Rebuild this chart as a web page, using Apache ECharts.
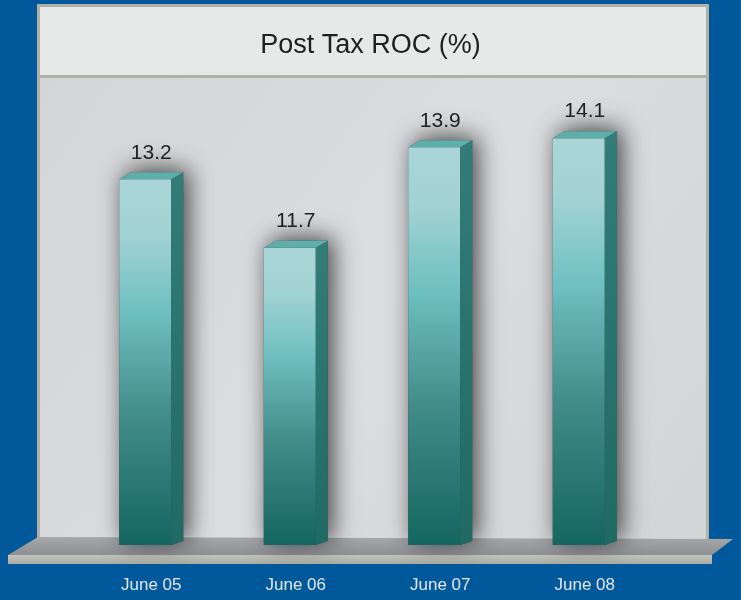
<!DOCTYPE html>
<html>
<head>
<meta charset="utf-8">
<script src="https://cdn.jsdelivr.net/npm/echarts@6/dist/echarts.min.js"></script>
<style>
  html, body { margin: 0; padding: 0; background: #01589b; }
  #chart { width: 741px; height: 600px; }
</style>
</head>
<body>
<div id="chart"></div>
<script>
// data
var categories = ['June 05', 'June 06', 'June 07', 'June 08'];
var rocValues = [13.2, 11.7, 13.9, 14.1];
var yMin = 5.2;
var yMax = 15;

var chart = echarts.init(document.getElementById('chart'));

// front face gradient (light top, dark teal bottom)
var frontFill = new echarts.graphic.LinearGradient(0, 0, 0, 1, [
  { offset: 0, color: '#a9d5d6' },
  { offset: 0.14, color: '#a4d3d4' },
  { offset: 0.36, color: '#6fc0c1' },
  { offset: 0.65, color: '#418c88' },
  { offset: 1, color: '#14665f' }
]);
var sideFill = new echarts.graphic.LinearGradient(0, 0, 0, 1, [
  { offset: 0, color: '#327d77' },
  { offset: 1, color: '#1f6b64' }
]);

function renderBar(params, api) {
  var p = api.coord([api.value(0), api.value(1)]);
  var base = api.coord([api.value(0), yMin]);
  var cx = p[0], top = p[1], bottom = base[1];
  var l = cx - 32, r = cx + 20, d = 12, h = 7;
  return {
    type: 'group',
    children: [
      {
        type: 'polygon',
        shape: { points: [[l, bottom], [l, top], [l + d, top - h], [r + d, top - h], [r + d, bottom - 4], [r, bottom]] },
        style: { fill: '#444', shadowBlur: 24, shadowColor: 'rgba(0,0,0,0.7)', shadowOffsetX: 5, shadowOffsetY: -3 }
      },
      {
        type: 'rect',
        shape: { x: l, y: top, width: r - l, height: bottom - top },
        style: { fill: frontFill }
      },
      {
        type: 'polygon',
        shape: { points: [[r, top], [r + d, top - h], [r + d, bottom - 4], [r, bottom]] },
        style: { fill: sideFill }
      },
      {
        type: 'polygon',
        shape: { points: [[l, top], [l + d, top - h], [r + d, top - h], [r, top]] },
        style: { fill: '#5eaeaa' }
      },
      {
        type: 'text',
        style: {
          x: cx, y: top - 16, text: String(api.value(1)),
          align: 'center', verticalAlign: 'bottom',
          fill: '#1f1f1f', font: '21px "Liberation Sans", Arial, sans-serif'
        }
      }
    ]
  };
}

var option = {
  backgroundColor: '#01589b',
  animation: false,
  title: {
    text: 'Post Tax ROC (%)',
    left: 'center',
    top: 27,
    textStyle: { color: '#1f1f1f', fontSize: 27, fontWeight: 'normal', fontFamily: 'Liberation Sans' }
  },
  // 背景面板、标题框、底座
  graphic: [
    { type: 'rect', z: -10, shape: { x: 37, y: 4, width: 672, height: 540 }, style: { fill: '#aeb2a7' } },
    {
      type: 'rect', z: -9, shape: { x: 40, y: 78, width: 666, height: 466 },
      style: {
        fill: new echarts.graphic.LinearGradient(0, 0, 1, 1, [
          { offset: 0, color: '#d4d5d7' },
          { offset: 0.5, color: '#dcdde0' },
          { offset: 1, color: '#d3d4d6' }
        ])
      }
    },
    { type: 'rect', z: -9, shape: { x: 40, y: 7, width: 666, height: 68 }, style: { fill: '#e7e8e8' } },
    {
      type: 'polygon', z: -8, shape: { points: [[38, 537], [733, 539], [712, 555], [8, 555]] },
      style: {
        fill: new echarts.graphic.LinearGradient(0, 0, 0, 1, [
          { offset: 0, color: '#a6a7a8' },
          { offset: 1, color: '#8f9095' }
        ])
      }
    },
    {
      type: 'rect', z: -8, shape: { x: 8, y: 555, width: 704, height: 9 },
      style: {
        fill: new echarts.graphic.LinearGradient(0, 0, 0, 1, [
          { offset: 0, color: '#c3c5bb' },
          { offset: 1, color: '#a9aca3' }
        ])
      }
    }
  ],
  grid: { left: 79, right: 84, top: 97, bottom: 55 },
  xAxis: {
    type: 'category',
    data: categories,
    axisLine: { show: false },
    axisTick: { show: false },
    axisLabel: { color: '#e2e8ef', fontSize: 17, fontFamily: 'Liberation Sans', margin: 32 }
  },
  yAxis: {
    type: 'value',
    min: yMin,
    max: yMax,
    show: false,
    splitLine: { show: false }
  },
  series: [{
    type: 'custom',
    renderItem: renderBar,
    data: rocValues.map(function (v, i) { return [i, v]; }),
    encode: { x: 0, y: 1 }
  }]
};

chart.setOption(option);
</script>
</body>
</html>
